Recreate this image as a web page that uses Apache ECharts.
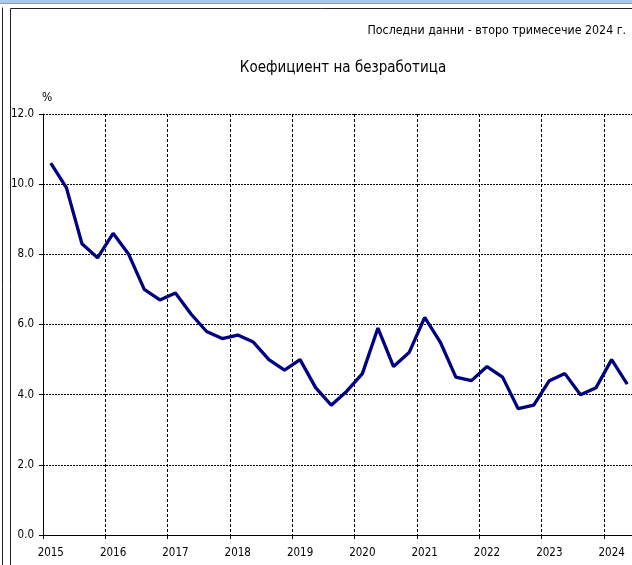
<!DOCTYPE html>
<html>
<head>
<meta charset="utf-8">
<script src="https://cdn.jsdelivr.net/npm/echarts@6/dist/echarts.min.js"></script>
<style>
  html, body { margin: 0; padding: 0; background: #fff; }
  #chart { width: 632px; height: 565px; }
</style>
</head>
<body>
<div id="chart"></div>
<script>
// quarters from 2015 Q1 to 2024 Q2
var years = ['2015','2016','2017','2018','2019','2020','2021','2022','2023','2024'];
var quarters = [];
years.forEach(function (y) {
  for (var q = 1; q <= 4; q++) {
    if (y === '2024' && q > 2) break;
    quarters.push(y + ' Q' + q);
  }
});

// unemployment rate, %
var rate = [10.6, 9.9, 8.3, 7.9, 8.6, 8.0, 7.0, 6.7, 6.9, 6.3,
            5.8, 5.6, 5.7, 5.5, 5.0, 4.7, 5.0, 4.2, 3.7, 4.1,
            4.6, 5.9, 4.8, 5.2, 6.2, 5.5, 4.5, 4.4, 4.8, 4.5,
            3.6, 3.7, 4.4, 4.6, 4.0, 4.2, 5.0, 4.3];

var yTicks = [0, 2, 4, 6, 8, 10, 12];

var font = 'DejaVu Sans Condensed';

var chart = echarts.init(document.getElementById('chart'));

var option = {
  animation: false,
  title: [
    {
      text: 'Последни данни - второ тримесечие 2024 г.',
      right: 6,
      top: 25,
      padding: 0,
      textStyle: { fontFamily: font, fontSize: 12.3, fontWeight: 'normal', color: '#000' }
    },
    {
      text: 'Коефициент на безработица',
      left: 343,
      textAlign: 'center',
      top: 61,
      padding: 0,
      textStyle: { fontFamily: font, fontSize: 15, fontWeight: 'normal', color: '#000' }
    }
  ],
  grid: { left: 43, top: 114, width: 592, height: 421, outerBoundsMode: 'none' },
  xAxis: {
    type: 'category',
    data: quarters,
    boundaryGap: true,
    axisLine: { lineStyle: { color: '#000', width: 1 } },
    axisTick: { show: true, interval: 3, length: 4, lineStyle: { color: '#000' } },
    axisLabel: {
      interval: 3,
      margin: 12,
      fontFamily: font,
      fontSize: 11.5,
      color: '#000',
      formatter: function (v) { return v.split(' ')[0]; }
    },
    splitLine: { show: true, interval: 3, lineStyle: { color: '#000', type: [3, 2], width: 1 } }
  },
  yAxis: {
    type: 'value',
    min: yTicks[0],
    max: yTicks[yTicks.length - 1],
    interval: 2,
    name: '%',
    nameLocation: 'end',
    nameGap: 10,
    nameTextStyle: { fontFamily: font, fontSize: 12, color: '#000', align: 'left', padding: [0, 0, 0, -1] },
    axisLine: { show: true, lineStyle: { color: '#000', width: 1 } },
    axisTick: { show: true, length: 4, lineStyle: { color: '#000' } },
    axisLabel: {
      margin: 9,
      fontFamily: font,
      fontSize: 11.5,
      color: '#000',
      formatter: function (v) { return v.toFixed(1); }
    },
    splitLine: { show: true, lineStyle: { color: '#000', type: [2, 1], width: 1 } }
  },
  series: [
    {
      type: 'line',
      data: rate,
      symbol: 'none',
      lineStyle: { color: '#000080', width: 3.3 },
      z: 5
    }
  ],
  graphic: [
    { type: 'rect', shape: { x: 0, y: 0, width: 632, height: 3 }, style: { fill: '#a9c9ea' } },
    { type: 'rect', shape: { x: 0, y: 3, width: 632, height: 1 }, style: { fill: '#9a9a9a' } },
    { type: 'line', shape: { x1: 2.5, y1: 7.5, x2: 2.5, y2: 565 }, style: { stroke: '#222', lineWidth: 1 } },
    { type: 'line', shape: { x1: 10.5, y1: 8.5, x2: 10.5, y2: 565 }, style: { stroke: '#222', lineWidth: 1 } },
    { type: 'line', shape: { x1: 10.5, y1: 8.5, x2: 632, y2: 8.5 }, style: { stroke: '#222', lineWidth: 1 } }
  ]
};

chart.setOption(option);
</script>
</body>
</html>
